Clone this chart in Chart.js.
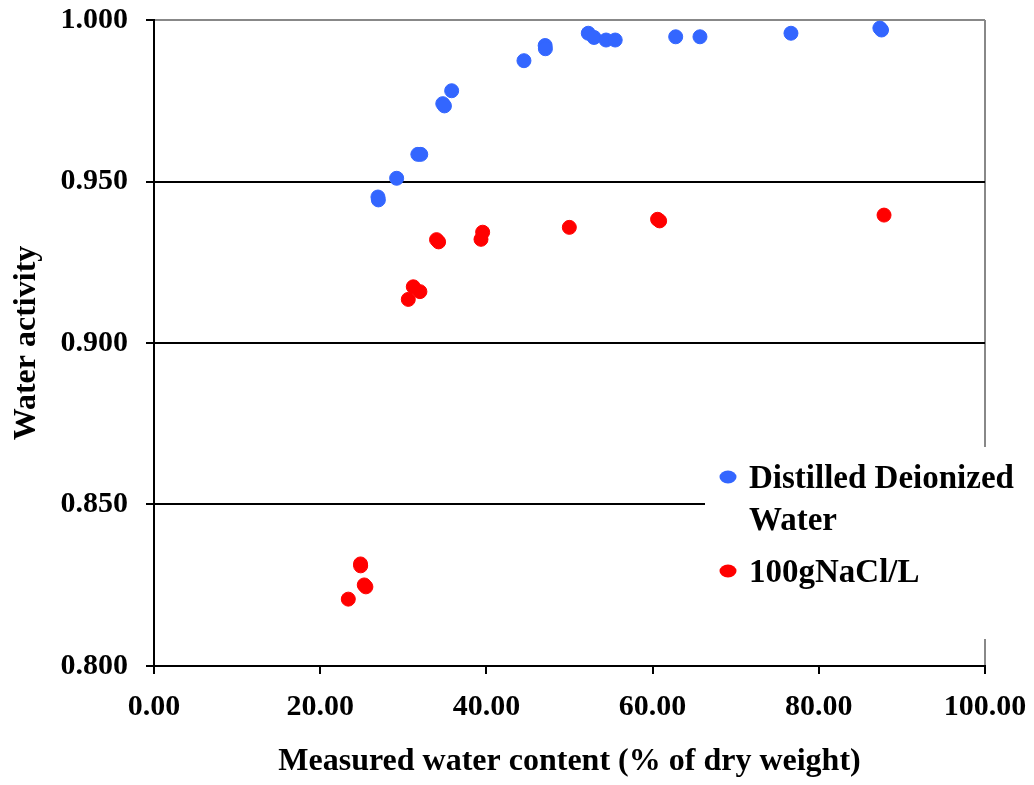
<!DOCTYPE html>
<html>
<head>
<meta charset="utf-8">
<script src="https://cdn.jsdelivr.net/npm/chart.js@4"></script>
<style>
  html, body { margin: 0; padding: 0; background: #ffffff; }
  #wrap { width: 1034px; height: 785px; position: relative; }
</style>
</head>
<body>
<div id="wrap"><canvas id="c" width="1034" height="785"></canvas></div>
<script>
// ---- Data ----
const seriesNames = ["Distilled Deionized Water", "100gNaCl/L"];
const seriesColors = ["#3366FF", "#FF0000"];

const ddwX = [26.95, 27.0, 29.2, 31.75, 32.1, 34.75, 34.95, 35.82, 44.52, 47.07, 47.1, 52.26, 52.95, 54.4, 55.5, 62.78, 65.7, 76.65, 87.35, 87.55];
const ddwY = [0.9452, 0.9443, 0.9510, 0.9584, 0.9584, 0.9741, 0.9734, 0.9781, 0.9874, 0.9921, 0.9911, 0.9959, 0.9946, 0.9938, 0.9938, 0.9948, 0.9948, 0.9959, 0.9975, 0.9969];

const naclX = [23.38, 24.85, 24.87, 25.3, 25.5, 30.6, 31.2, 32.0, 34.0, 34.25, 39.35, 39.55, 49.98, 60.6, 60.85, 87.85];
const naclY = [0.8207, 0.8316, 0.8310, 0.8251, 0.8245, 0.9135, 0.9174, 0.9159, 0.9320, 0.9313, 0.9321, 0.9343, 0.9358, 0.9383, 0.9378, 0.9396];

const xTickStep = 20, xMin = 0, xMax = 100;
const yTickStep = 0.05, yMin = 0.8, yMax = 1.0;
const xTitle = "Measured water content (% of dry weight)";
const yTitle = "Water activity";

function toPoints(xs, ys) { return xs.map((x, i) => ({ x: x, y: ys[i] })); }

const FONT = "'Liberation Serif', 'Times New Roman', serif";

function noAutoPad(s) { s.paddingTop = 0; s.paddingBottom = 0; s.paddingLeft = 0; s.paddingRight = 0; }

const legendPlugin = {
  id: 'customLegend',
  afterDraw(chart) {
    const ctx = chart.ctx;
    ctx.save();
    // white legend box that covers the plot border
    ctx.fillStyle = '#ffffff';
    ctx.fillRect(705, 447, 329, 192);
    ctx.font = "bold 33px " + FONT;
    ctx.fillStyle = '#000000';
    ctx.textBaseline = 'alphabetic';
    ctx.textAlign = 'left';
    const textX = 749, markX = 728, maxW = 284, lineH = 42;
    let baseY = 488;
    chart.data.datasets.forEach((ds) => {
      const words = ds.label.split(' ');
      const lines = [];
      let cur = '';
      words.forEach(w => {
        const t = cur ? cur + ' ' + w : w;
        if (ctx.measureText(t).width > maxW && cur) { lines.push(cur); cur = w; } else { cur = t; }
      });
      if (cur) lines.push(cur);
      ctx.beginPath();
      ctx.fillStyle = ds.backgroundColor;
      ctx.ellipse(markX, baseY - 11, 8.5, 6.5, 0, 0, Math.PI * 2);
      ctx.fill();
      ctx.fillStyle = '#000000';
      lines.forEach((ln, i) => ctx.fillText(ln, textX, baseY + i * lineH));
      baseY += lines.length * lineH + 10;
    });
    ctx.restore();
  }
};

new Chart(document.getElementById('c'), {
  type: 'scatter',
  data: {
    datasets: [
      { label: seriesNames[0], data: toPoints(ddwX, ddwY), backgroundColor: seriesColors[0], borderColor: seriesColors[0], pointRadius: 7, pointBorderWidth: 1, pointHoverRadius: 7 },
      { label: seriesNames[1], data: toPoints(naclX, naclY), backgroundColor: seriesColors[1], borderColor: seriesColors[1], pointRadius: 7, pointBorderWidth: 1, pointHoverRadius: 7 }
    ]
  },
  options: {
    responsive: false,
    animation: false,
    devicePixelRatio: 1,
    layout: { autoPadding: false, padding: { top: 20, right: 49, left: 0, bottom: 0 } },
    plugins: { legend: { display: false }, tooltip: { enabled: false } },
    scales: {
      x: {
        type: 'linear', min: xMin, max: xMax,
        afterFit(s) { s.height = 119; noAutoPad(s); },
        ticks: { stepSize: xTickStep, padding: 15, color: '#000', font: { family: FONT, size: 30, weight: 'bold' }, callback: v => Number(v).toFixed(2) },
        grid: {
          drawOnChartArea: true, tickLength: 8, lineWidth: 2, tickWidth: 2, tickColor: '#000',
          color: ctx => (ctx.tick && ctx.tick.value === xMax) ? '#888888' : 'rgba(0,0,0,0)'
        },
        border: { display: true, color: '#000', width: 2 },
        title: { display: true, text: xTitle, color: '#000', font: { family: FONT, size: 32, weight: 'bold' }, padding: { top: 0, bottom: 4 } }
      },
      y: {
        type: 'linear', min: yMin, max: yMax,
        afterFit(s) { s.width = 154; noAutoPad(s); },
        ticks: { stepSize: yTickStep, padding: 18, color: '#000', font: { family: FONT, size: 30, weight: 'bold' }, callback: v => Number(v).toFixed(3) },
        grid: {
          tickLength: 8, lineWidth: 2, tickWidth: 2, tickColor: '#000',
          color: ctx => (ctx.tick && Math.abs(ctx.tick.value - yMax) < 1e-9) ? '#888888' : '#000000'
        },
        border: { display: true, color: '#000', width: 2 },
        title: { display: true, text: yTitle, color: '#000', font: { family: FONT, size: 32, weight: 'bold' }, padding: { top: 8, bottom: 0 } }
      }
    }
  },
  plugins: [legendPlugin]
});
</script>
</body>
</html>
